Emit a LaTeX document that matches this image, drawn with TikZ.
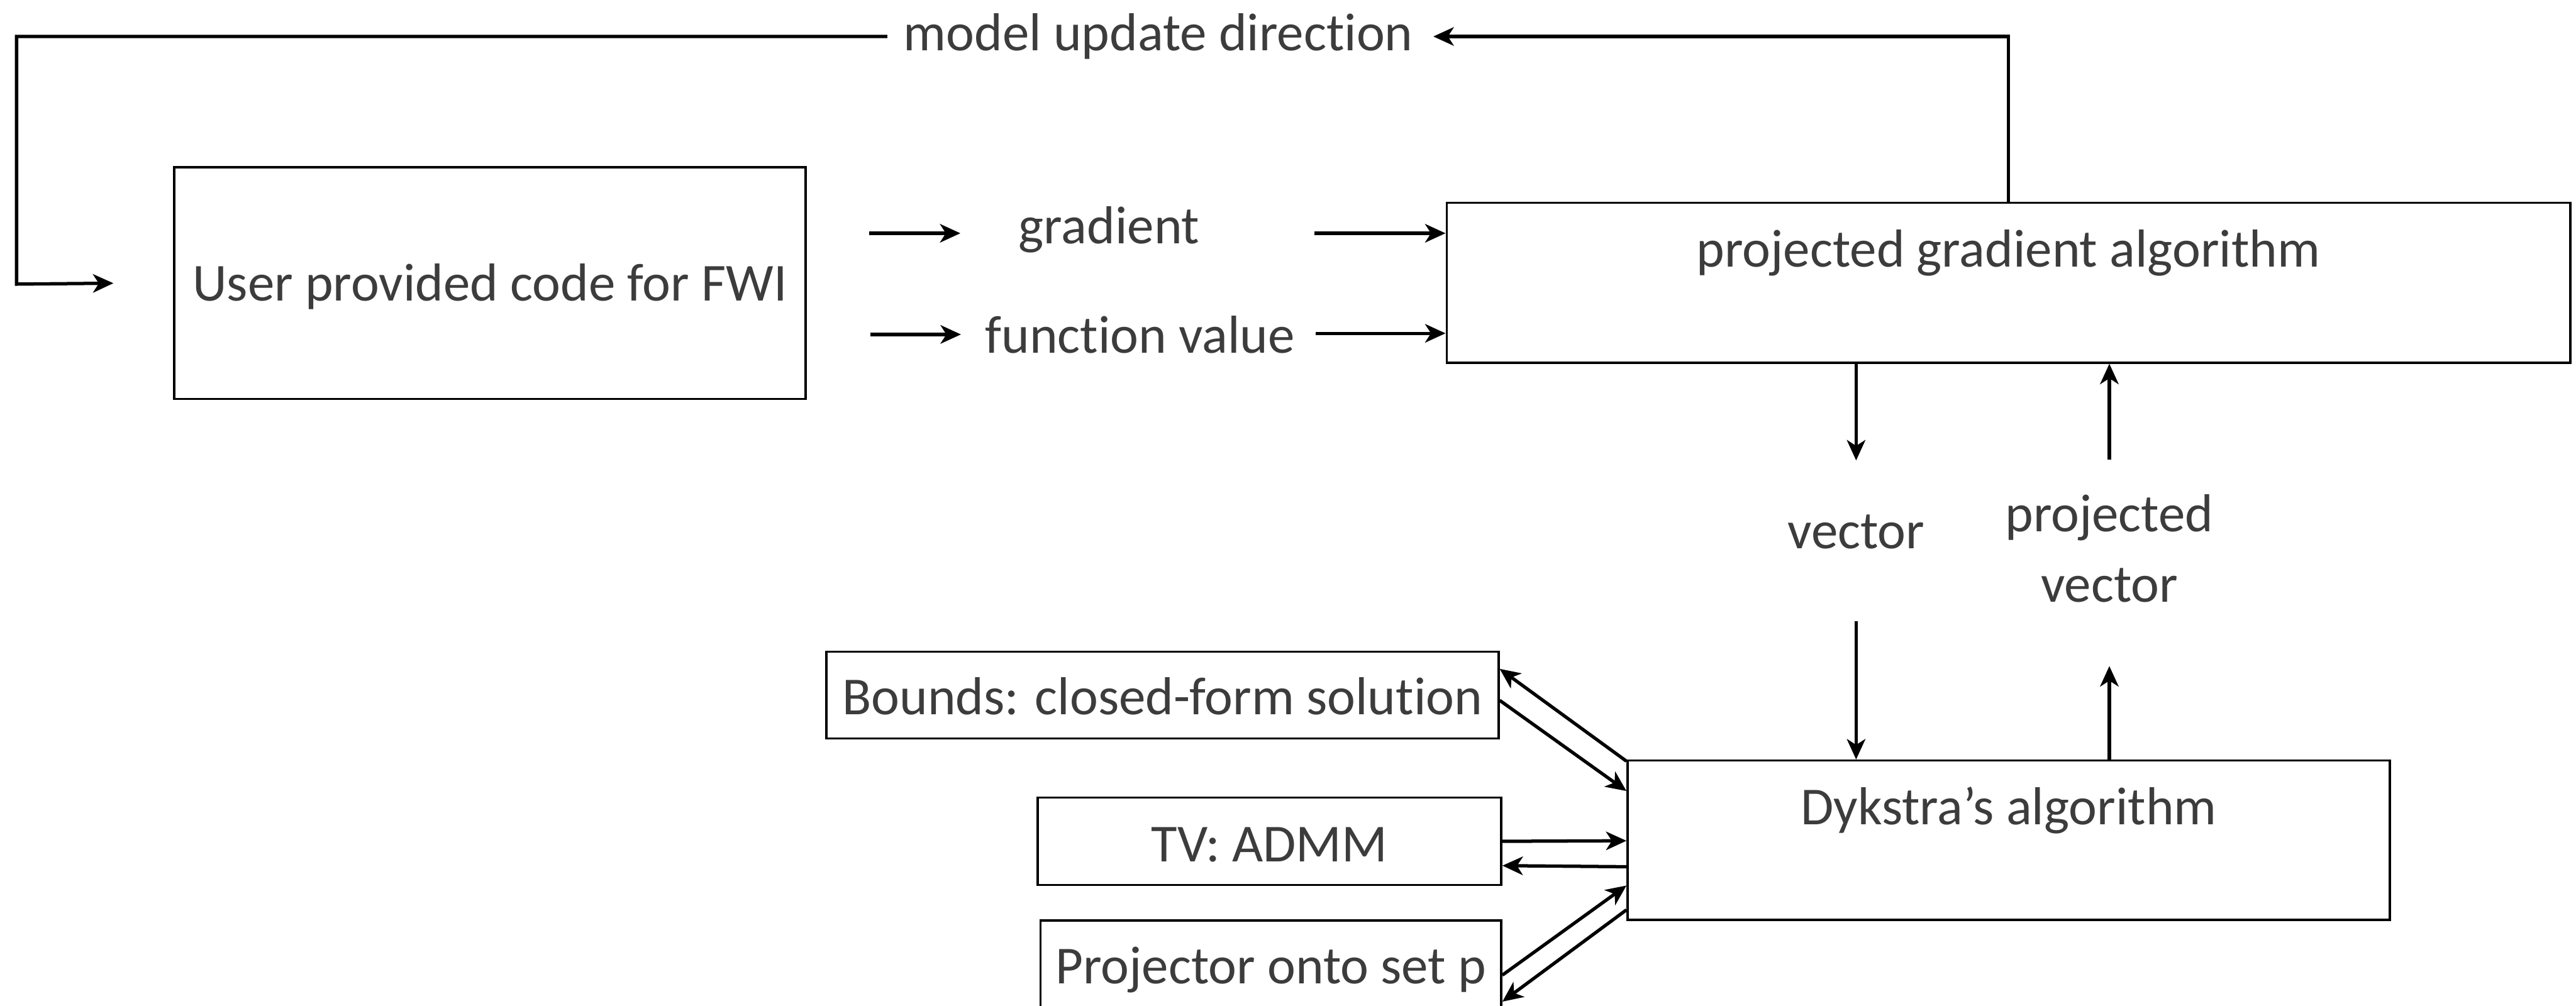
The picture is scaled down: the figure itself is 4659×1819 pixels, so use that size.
\documentclass[tikz,border=0pt]{standalone}
\usepackage{fontspec}
\setmainfont{Carlito}[Ligatures=NoCommon]
\usetikzlibrary{arrows.meta}
\definecolor{txt}{RGB}{60,60,60}
\begin{document}
\begin{tikzpicture}[x=0.01cm,y=-0.01cm,
  every node/.style={font=\fontsize{27.5}{36.4}\selectfont, text=txt, inner sep=0pt},
  box/.style={draw=black, line width=1.14pt},
  arr/.style={draw=black, line width=1.7pt, -{Stealth[length=10.5pt,width=9.5pt,inset=3pt]}},
  ln/.style={draw=black, line width=1.7pt}]
\useasboundingbox (0,0) rectangle (4659,1819);
% boxes
\node[box, anchor=base, minimum width=11.41cm, text height=68.6pt, text depth=50.6pt] (user) at (886,544) {User provided code for FWI};
\node[box, anchor=base, minimum width=20.31cm, text height=33pt, text depth=49.2pt] (pga) at (3632.5,483) {projected gradient algorithm};
\node[box, anchor=base, minimum width=13.78cm, text height=33pt, text depth=48.9pt] (dyk) at (3633,1492) {Dykstra’s algorithm};
\node[box, anchor=base, minimum width=12.15cm, text height=32.4pt, text depth=12.2pt] (bounds) at (2102.5,1293) {Bounds: closed-form solution};
\node[box, anchor=base, minimum width=8.38cm, text height=33pt, text depth=11.95pt] (tv) at (2296,1559) {TV: ADMM};
\node[box, anchor=base, minimum width=8.33cm, text height=32.4pt, text depth=12.5pt] (proj) at (2298.5,1779) {Projector onto set p};
% labels
\node (mud) at (2095,66) {model update direction};
\node[anchor=base] (grad) at (2006,441) {gradient};
\node[anchor=base] (fv) at (2062,639) {function value};
\node[anchor=base] (vec) at (3357,992) {vector};
\node[align=center] (pv) at (3815,992) {projected\\vector};
% feedback loop
\coordinate (fbin) at ([xshift=-1.08cm]user.west);
\draw[arr] (pga.north) |- ([xshift=0.36cm]mud.east);
\draw[arr] ([xshift=-0.29cm]mud.west) -| (30,514) -- (fbin);
% gradient / function value
\coordinate (g1) at (1572,422);
\coordinate (g2) at (1737,422);
\coordinate (f1) at (1574,605);
\coordinate (f2) at (1738,605);
\draw[arr] (g1) -- (g2);
\draw[arr] (f1) -- (f2);
\draw[arr] (2377,422) -- (pga.west |- 0,422);
\draw[arr] (2380,603) -- (pga.west |- 0,603);
% vector arrows
\draw[arr] (pga.south -| vec.base) -- (vec.base |- 0,833);
\draw[arr] (vec.base |- 0,1124) -- (dyk.north -| vec.base);
\draw[arr] (pv.center |- 0,831) -- (pga.south -| pv.center);
\draw[arr] (dyk.north -| pv.center) -- (pv.center |- 0,1205);
% projector arrows
\draw[arr] (dyk.west |- 0,1377) -- (bounds.east |- 0,1210);
\draw[arr] (bounds.east |- 0,1267) -- (dyk.west |- 0,1431);
\draw[arr] (tv.east |- 0,1522) -- (dyk.west |- 0,1521);
\draw[arr] (dyk.west |- 0,1568) -- (tv.east |- 0,1566);
\draw[arr] (proj.east |- 0,1764) -- (dyk.west |- 0,1602);
\draw[arr] (dyk.west |- 0,1646) -- (proj.east |- 0,1812);
\end{tikzpicture}
\end{document}
